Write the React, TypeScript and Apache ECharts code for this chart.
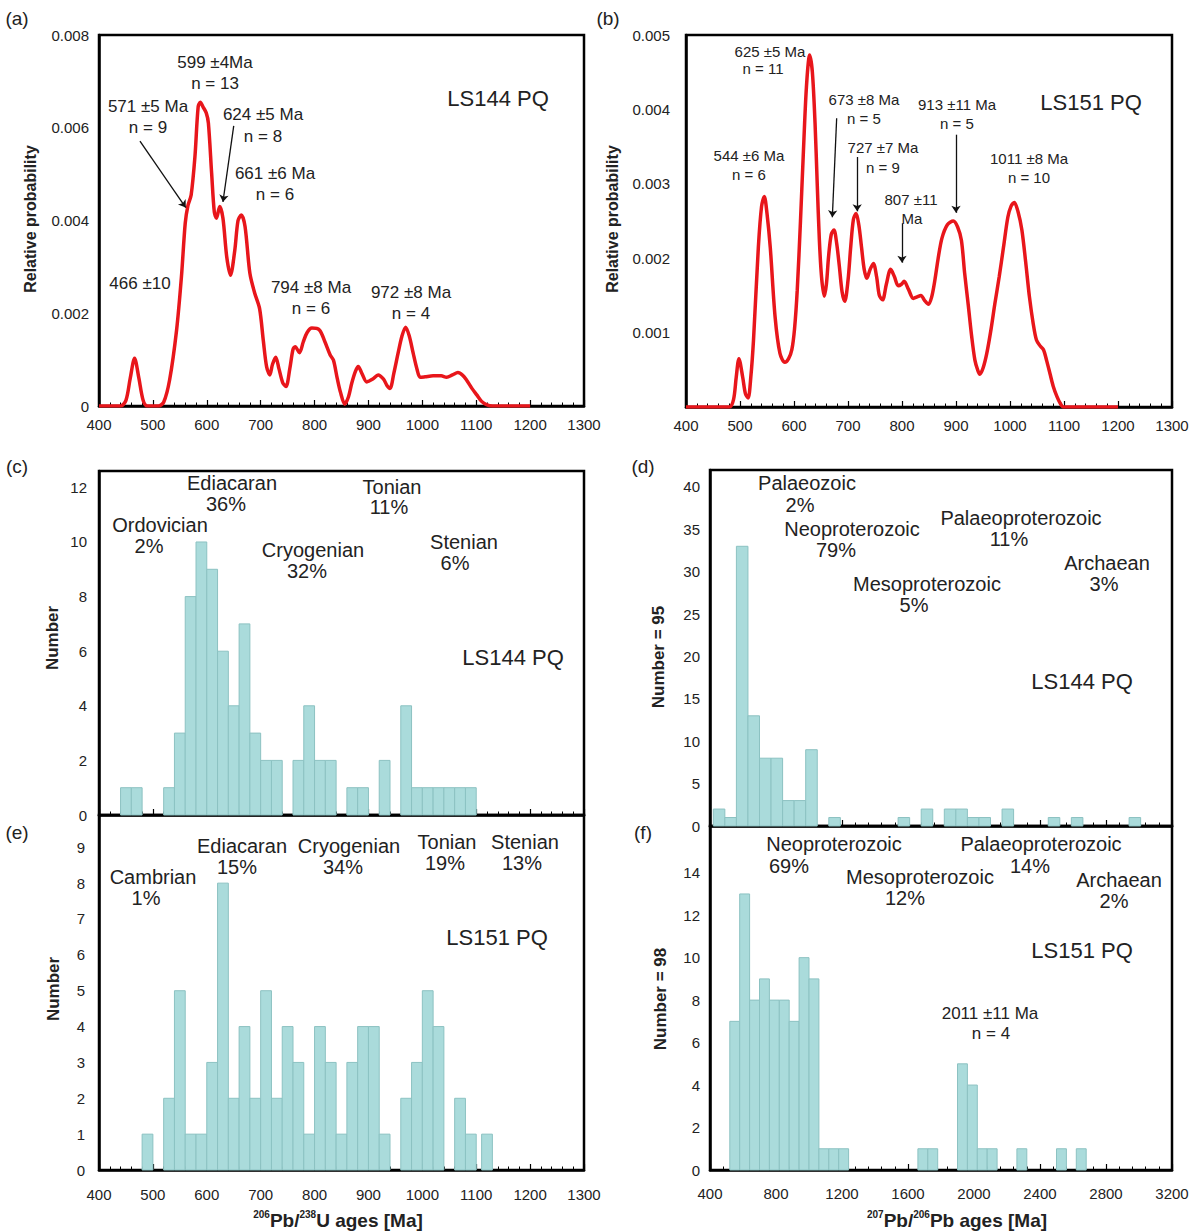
import React, { useEffect, useRef } from 'react';
import * as echarts from 'echarts';

const FONT = '"Liberation Sans", Arial, Helvetica, sans-serif';
const RED = '#e8161b';
const BAR_FILL = '#aadbdb';
const BAR_EDGE = '#8cc2c2';

// (a) LS144 PQ relative probability curve: [age Ma, probability]
const pdfLS144: [number, number][] = [
  [400, 0], [440, 0], [450, 0.00012], [458, 0.0006], [466, 0.00103], [474, 0.0006], [482, 0.00012], [490, 0],
  [510, 0], [520, 0.00008], [531, 0.00056], [544, 0.00164], [553, 0.00279], [560, 0.00394], [565, 0.00432],
  [571, 0.00455], [578, 0.00537], [584, 0.00645], [588, 0.00655], [593, 0.00645], [599, 0.00632], [603, 0.0061],
  [609, 0.00502], [614, 0.00418], [618, 0.00405], [624, 0.0043], [630, 0.00405], [637, 0.00322], [644, 0.00282],
  [652, 0.00336], [658, 0.004], [664, 0.00412], [671, 0.00387], [680, 0.00286], [689, 0.00243], [698, 0.0021],
  [705, 0.0014], [711, 0.00085], [717, 0.00067], [722, 0.0009], [728, 0.00105], [734, 0.0008], [741, 0.0005],
  [747, 0.00042], [754, 0.0008], [760, 0.00122], [764, 0.00128], [772, 0.00115], [779, 0.00138], [786, 0.00158],
  [795, 0.00168], [809, 0.00164], [819, 0.00139], [829, 0.0011], [835, 0.00099], [842, 0.0006], [848, 0.0003],
  [856, 0.00004], [863, 0.0002], [869, 0.00049], [876, 0.00075], [881, 0.00085], [888, 0.0007], [897, 0.00052],
  [908, 0.00058], [918, 0.00067], [928, 0.00058], [934, 0.00045], [940, 0.00038], [947, 0.0007], [955, 0.00114],
  [962, 0.0015], [969, 0.0017], [976, 0.0015], [983, 0.00114], [990, 0.0008], [996, 0.00062], [1005, 0.00063],
  [1020, 0.00065], [1035, 0.00065], [1045, 0.00062], [1056, 0.00067], [1066, 0.00072], [1075, 0.00066],
  [1082, 0.00056], [1092, 0.00038], [1101, 0.00024], [1110, 0.0001], [1119, 0.00003], [1130, 0], [1200, 0],
];

// (b) LS151 PQ relative probability curve
const pdfLS151: [number, number][] = [
  [400, 0], [480, 0], [488, 0.0001], [493, 0.0004], [498, 0.00065], [505, 0.0004], [510, 0.00018], [515, 0.00012],
  [520, 0.0004], [525, 0.0009], [534, 0.00215], [540, 0.0027], [545, 0.00283], [550, 0.0026], [556, 0.00215],
  [565, 0.00121], [574, 0.00072], [583, 0.0006], [590, 0.00065], [596, 0.00077], [601, 0.00105], [606, 0.00157],
  [612, 0.0025], [617, 0.00336], [623, 0.0043], [629, 0.00473], [634, 0.0045], [639, 0.00381], [643, 0.003],
  [647, 0.00224], [651, 0.00175], [656, 0.00149], [660, 0.00165], [664, 0.00202], [669, 0.00232], [674, 0.00238],
  [679, 0.0022], [684, 0.00189], [689, 0.00155], [694, 0.00142], [700, 0.0017], [705, 0.00215], [710, 0.00252],
  [715, 0.0026], [720, 0.00245], [725, 0.00215], [730, 0.00185], [735, 0.00173], [741, 0.00185], [747, 0.00193],
  [753, 0.00175], [758, 0.0015], [764, 0.00144], [771, 0.00165], [779, 0.00185], [786, 0.00175], [793, 0.00163],
  [799, 0.00165], [804, 0.00169], [812, 0.00158], [821, 0.00146], [828, 0.00148], [835, 0.0015], [842, 0.00143],
  [849, 0.00138], [855, 0.00148], [861, 0.00171], [867, 0.002], [874, 0.00227], [884, 0.00245], [895, 0.0025],
  [903, 0.00242], [910, 0.00224], [916, 0.0018], [923, 0.00135], [929, 0.00095], [935, 0.00063], [940, 0.0005],
  [944, 0.00044], [950, 0.00052], [957, 0.00072], [965, 0.00105], [972, 0.00139], [980, 0.00175], [988, 0.00215],
  [996, 0.00255], [1002, 0.0027], [1008, 0.00275], [1015, 0.00262], [1022, 0.00238], [1029, 0.00195],
  [1036, 0.00148], [1043, 0.00112], [1049, 0.0009], [1056, 0.00082], [1062, 0.00077], [1068, 0.00062],
  [1074, 0.00045], [1080, 0.00028], [1087, 0.00014], [1093, 0.00005], [1099, 0], [1200, 0],
];

// annotation arrows: [fromAge, fromProb, toAge, toProb]
const arrowsA = [
  [476, 0.00571, 561, 0.00428],
  [650, 0.00604, 630, 0.0044],
];
const arrowsB = [
  [679, 0.00388, 671, 0.00255],
  [717, 0.00336, 717, 0.00263],
  [800, 0.00247, 800, 0.00194],
  [900, 0.00366, 900, 0.00261],
];

// (c) LS144 PQ 206Pb/238U histogram, 20 Ma bins
const binWidthC = 20;
const binStartC = [440, 460, 520, 540, 560, 580, 600, 620, 640, 660, 680, 700, 720, 760, 780, 800, 820, 860, 880, 920, 960, 980, 1000, 1020, 1040, 1060, 1080];
const countC = [1, 1, 1, 3, 8, 10, 9, 6, 4, 7, 3, 2, 2, 2, 4, 2, 2, 1, 1, 2, 4, 1, 1, 1, 1, 1, 1];

// (d) LS144 PQ 207Pb/206Pb histogram, 70 Ma bins
const binWidthD = 70;
const binStartD = [420, 490, 560, 630, 700, 770, 840, 910, 980, 1120, 1540, 1680, 1820, 1890, 1960, 2030, 2170, 2450, 2590, 2940];
const countD = [2, 1, 33, 13, 8, 8, 3, 3, 9, 1, 1, 2, 2, 2, 1, 1, 2, 1, 1, 1];

// (e) LS151 PQ 206Pb/238U histogram, 20 Ma bins
const binWidthE = 20;
const binStartE = [480, 520, 540, 560, 580, 600, 620, 640, 660, 680, 700, 720, 740, 760, 780, 800, 820, 840, 860, 880, 900, 920, 960, 980, 1000, 1020, 1060, 1080, 1110];
const countE = [1, 2, 5, 1, 1, 3, 8, 2, 4, 2, 5, 2, 4, 3, 1, 4, 3, 1, 3, 4, 4, 1, 2, 3, 5, 4, 2, 1, 1];

// (f) LS151 PQ 207Pb/206Pb histogram, 60 Ma bins
const binWidthF = 60;
const binStartF = [520, 580, 640, 700, 760, 820, 880, 940, 1000, 1060, 1120, 1180, 1660, 1720, 1900, 1960, 2020, 2080, 2260, 2500, 2620];
const countF = [7, 13, 8, 9, 8, 8, 7, 10, 9, 1, 1, 1, 1, 1, 5, 4, 1, 1, 1, 1, 1];

const histData = (starts: number[], counts: number[], w: number) =>
  starts.map((s, i) => [s, s + w, counts[i]]);

const renderBar = (params: any, api: any) => {
  const x0 = api.value(0);
  const x1 = api.value(1);
  const v = api.value(2);
  const p0 = api.coord([x0, v]);
  const p1 = api.coord([x1, 0]);
  return {
    type: 'rect',
    shape: { x: p0[0], y: p0[1], width: p1[0] - p0[0], height: p1[1] - p0[1] },
    style: { fill: BAR_FILL, stroke: BAR_EDGE, lineWidth: 1 },
  };
};

const mkX = (gridIndex: number, min: number, max: number, interval: number, showLabel: boolean, margin: number) => ({
  type: 'value', gridIndex, min, max, interval,
  axisLine: { show: true, onZero: false, lineStyle: { color: '#000', width: 2.5 } },
  axisTick: { show: true, inside: true, length: 6, lineStyle: { color: '#000', width: 1.2 } },
  minorTick: { show: true, splitNumber: 5, length: 3.5, lineStyle: { color: '#000', width: 1 } },
  splitLine: { show: false },
  minorSplitLine: { show: false },
  axisLabel: {
    show: showLabel, color: '#222', fontSize: 15, fontFamily: FONT, margin,
    formatter: (v: number) => String(v),
  },
});

const mkY = (gridIndex: number, min: number, max: number, interval: number, fmt: (v: number) => string, margin: number) => ({
  type: 'value', gridIndex, min, max, interval,
  axisLine: { show: true, onZero: false, lineStyle: { color: '#000', width: 2.5 } },
  axisTick: { show: false },
  splitLine: { show: false },
  axisLabel: { color: '#222', fontSize: 15, fontFamily: FONT, margin, formatter: fmt },
});

const txt = (x: number, y: number, text: string, size: number, extra: any = {}) => ({
  type: 'text', x, y, silent: true, z: 100,
  style: {
    text, fontSize: size, fontFamily: FONT, fill: '#222',
    align: 'center', verticalAlign: 'middle', textAlign: 'center', textVerticalAlign: 'middle', ...extra,
  },
});

const vtxt = (x: number, y: number, text: string, size: number) => ({
  type: 'text', x, y, rotation: Math.PI / 2, silent: true, z: 100,
  style: {
    text, fontSize: size, fontWeight: 'bold', fontFamily: FONT, fill: '#222',
    align: 'center', verticalAlign: 'middle', textAlign: 'center', textVerticalAlign: 'middle',
  },
});

const arrowLines = (arr: number[][]) =>
  arr.map((a) => [{ coord: [a[0], a[1]] }, { coord: [a[2], a[3]] }]);

export default function App() {
  const ref = useRef<HTMLDivElement>(null);
  useEffect(() => {
    if (!ref.current) return;
    const chart = echarts.init(ref.current, undefined, { renderer: 'svg' });
    const gridBase = { show: true, borderColor: '#000', borderWidth: 2.5, backgroundColor: 'transparent' };
    const PER = 20;
    const option: any = {
      animation: false,
      backgroundColor: '#fff',
      grid: [
        { ...gridBase, left: 99, top: 35, width: 485, height: 371 },
        { ...gridBase, left: 686, top: 35, width: 486, height: 372 },
        { ...gridBase, left: 99, top: 471, width: 485, height: 344 },
        { ...gridBase, left: 710, top: 470, width: 462, height: 356 },
        { ...gridBase, left: 99, top: 815, width: 485, height: 355 },
        { ...gridBase, left: 710, top: 826, width: 462, height: 344 },
      ],
      xAxis: [
        mkX(0, 400, 1300, 100, true, 11),
        mkX(1, 400, 1300, 100, true, 11),
        mkX(2, 400, 1300, 100, false, 10),
        mkX(3, 400, 3200, 400, false, 10),
        mkX(4, 400, 1300, 100, true, 17),
        mkX(5, 400, 3200, 400, true, 16),
      ],
      yAxis: [
        mkY(0, 0, 0.008, 0.002, (v) => (v === 0 ? '0' : v.toFixed(3)), 10),
        mkY(1, 0, 0.005, 0.001, (v) => (v === 0 ? '' : v.toFixed(3)), 16),
        mkY(2, 0, 12.6, 2, (v) => (v % 2 === 0 ? String(v) : ''), 12),
        mkY(3, 0, 42, 5, (v) => (v % 5 === 0 && v <= 40 ? String(v) : ''), 10),
        mkY(4, 0, 9.9, 1, (v) => (Number.isInteger(v) && v <= 9 ? String(v) : ''), 14),
        mkY(5, 0, 16.2, 2, (v) => (v % 2 === 0 && v <= 14 ? String(v) : ''), 10),
      ],
      series: [
        {
          type: 'line', xAxisIndex: 0, yAxisIndex: 0, data: pdfLS144, smooth: 0.3, symbol: 'none',
          lineStyle: { color: RED, width: 3.5 }, clip: true,
          markLine: {
            silent: true, symbol: ['none', 'arrow'], symbolSize: 7, animation: false,
            lineStyle: { color: '#111', width: 1.3, type: 'solid' }, label: { show: false },
            data: arrowLines(arrowsA),
          },
        },
        {
          type: 'line', xAxisIndex: 1, yAxisIndex: 1, data: pdfLS151, smooth: 0.3, symbol: 'none',
          lineStyle: { color: RED, width: 3.5 }, clip: true,
          markLine: {
            silent: true, symbol: ['none', 'arrow'], symbolSize: 7, animation: false,
            lineStyle: { color: '#111', width: 1.3, type: 'solid' }, label: { show: false },
            data: arrowLines(arrowsB),
          },
        },
        { type: 'custom', xAxisIndex: 2, yAxisIndex: 2, renderItem: renderBar, encode: { x: [0, 1], y: 2 }, data: histData(binStartC, countC, binWidthC) },
        { type: 'custom', xAxisIndex: 3, yAxisIndex: 3, renderItem: renderBar, encode: { x: [0, 1], y: 2 }, data: histData(binStartD, countD, binWidthD) },
        { type: 'custom', xAxisIndex: 4, yAxisIndex: 4, renderItem: renderBar, encode: { x: [0, 1], y: 2 }, data: histData(binStartE, countE, binWidthE) },
        { type: 'custom', xAxisIndex: 5, yAxisIndex: 5, renderItem: renderBar, encode: { x: [0, 1], y: 2 }, data: histData(binStartF, countF, binWidthF) },
      ],
      graphic: [
        // panel letters
        txt(17, 18, '(a)', 19), txt(608, 18, '(b)', 19), txt(17, 466, '(c)', 19),
        txt(643, 466, '(d)', 19), txt(17, 832, '(e)', 19), txt(643, 832, '(f)', 19),
        // y titles
        vtxt(30, 219, 'Relative probability', 16),
        vtxt(612, 219, 'Relative probability', 16),
        vtxt(52, 638, 'Number', 17),
        vtxt(658, 657, 'Number = 95', 17),
        vtxt(53, 989, 'Number', 17),
        vtxt(660, 999, 'Number = 98', 17),
        // x titles
        {
          type: 'text', x: 338, y: 1220, silent: true, z: 100,
          style: {
            text: '{s|206}{b|Pb/}{s|238}{b|U ages [Ma]}', align: 'center', verticalAlign: 'middle',
            textAlign: 'center', textVerticalAlign: 'middle',
            rich: {
              b: { fontSize: 19, fontWeight: 'bold', fontFamily: FONT, fill: '#222', lineHeight: 22 },
              s: { fontSize: 10, fontWeight: 'bold', fontFamily: FONT, fill: '#222', verticalAlign: 'top', lineHeight: 12 },
            },
          },
        },
        {
          type: 'text', x: 957, y: 1220, silent: true, z: 100,
          style: {
            text: '{s|207}{b|Pb/}{s|206}{b|Pb ages [Ma]}', align: 'center', verticalAlign: 'middle',
            textAlign: 'center', textVerticalAlign: 'middle',
            rich: {
              b: { fontSize: 19, fontWeight: 'bold', fontFamily: FONT, fill: '#222', lineHeight: 22 },
              s: { fontSize: 10, fontWeight: 'bold', fontFamily: FONT, fill: '#222', verticalAlign: 'top', lineHeight: 12 },
            },
          },
        },
        // (a) annotations
        txt(215, 62, '599 ±4Ma', 17), txt(215, 83, 'n = 13', 17),
        txt(148, 106, '571 ±5 Ma', 17), txt(148, 127, 'n = 9', 17),
        txt(263, 114, '624 ±5 Ma', 17), txt(263, 136, 'n = 8', 17),
        txt(275, 173, '661 ±6 Ma', 17), txt(275, 194, 'n = 6', 17),
        txt(140, 283, '466 ±10', 17),
        txt(311, 287, '794 ±8 Ma', 17), txt(311, 308, 'n = 6', 17),
        txt(411, 292, '972 ±8 Ma', 17), txt(411, 313, 'n = 4', 17),
        txt(498, 98, 'LS144 PQ', 22),
        // (b) annotations
        txt(770, 51, '625 ±5 Ma', 15), txt(763, 68, 'n = 11', 15),
        txt(749, 155, '544 ±6 Ma', 15), txt(749, 174, 'n = 6', 15),
        txt(864, 99, '673 ±8 Ma', 15), txt(864, 118, 'n = 5', 15),
        txt(883, 147, '727 ±7 Ma', 15), txt(883, 167, 'n = 9', 15),
        txt(911, 199, '807 ±11', 15), txt(912, 218, 'Ma', 15),
        txt(957, 104, '913 ±11 Ma', 15), txt(957, 123, 'n = 5', 15),
        txt(1029, 158, '1011 ±8 Ma', 15), txt(1029, 177, 'n = 10', 15),
        txt(1091, 102, 'LS151 PQ', 22),
        // (c)
        txt(232, 483, 'Ediacaran', PER), txt(226, 504, '36%', PER),
        txt(392, 487, 'Tonian', PER), txt(389, 507, '11%', PER),
        txt(160, 525, 'Ordovician', PER), txt(149, 546, '2%', PER),
        txt(313, 550, 'Cryogenian', PER), txt(307, 571, '32%', PER),
        txt(464, 542, 'Stenian', PER), txt(455, 563, '6%', PER),
        txt(513, 657, 'LS144 PQ', 22),
        // (d)
        txt(807, 483, 'Palaeozoic', PER), txt(800, 505, '2%', PER),
        txt(852, 529, 'Neoproterozoic', PER), txt(836, 550, '79%', PER),
        txt(1021, 518, 'Palaeoproterozoic', PER), txt(1009, 539, '11%', PER),
        txt(927, 584, 'Mesoproterozoic', PER), txt(914, 605, '5%', PER),
        txt(1107, 563, 'Archaean', PER), txt(1104, 584, '3%', PER),
        txt(1082, 681, 'LS144 PQ', 22),
        // (e)
        txt(242, 846, 'Ediacaran', PER), txt(237, 867, '15%', PER),
        txt(349, 846, 'Cryogenian', PER), txt(343, 867, '34%', PER),
        txt(447, 842, 'Tonian', PER), txt(445, 863, '19%', PER),
        txt(525, 842, 'Stenian', PER), txt(522, 863, '13%', PER),
        txt(153, 877, 'Cambrian', PER), txt(146, 898, '1%', PER),
        txt(497, 937, 'LS151 PQ', 22),
        // (f)
        txt(834, 844, 'Neoproterozoic', PER), txt(789, 866, '69%', PER),
        txt(1041, 844, 'Palaeoproterozoic', PER), txt(1030, 866, '14%', PER),
        txt(920, 877, 'Mesoproterozoic', PER), txt(905, 898, '12%', PER),
        txt(1119, 880, 'Archaean', PER), txt(1114, 901, '2%', PER),
        txt(1082, 950, 'LS151 PQ', 22),
        txt(990, 1013, '2011 ±11 Ma', 17), txt(991, 1033, 'n = 4', 17),
      ],
    };
    chart.setOption(option);
    return () => chart.dispose();
  }, []);
  return (
    <div
      ref={ref}
      style={{ position: 'absolute', left: 0, top: 0, width: 1192, height: 1232, background: '#fff' }}
    />
  );
}
